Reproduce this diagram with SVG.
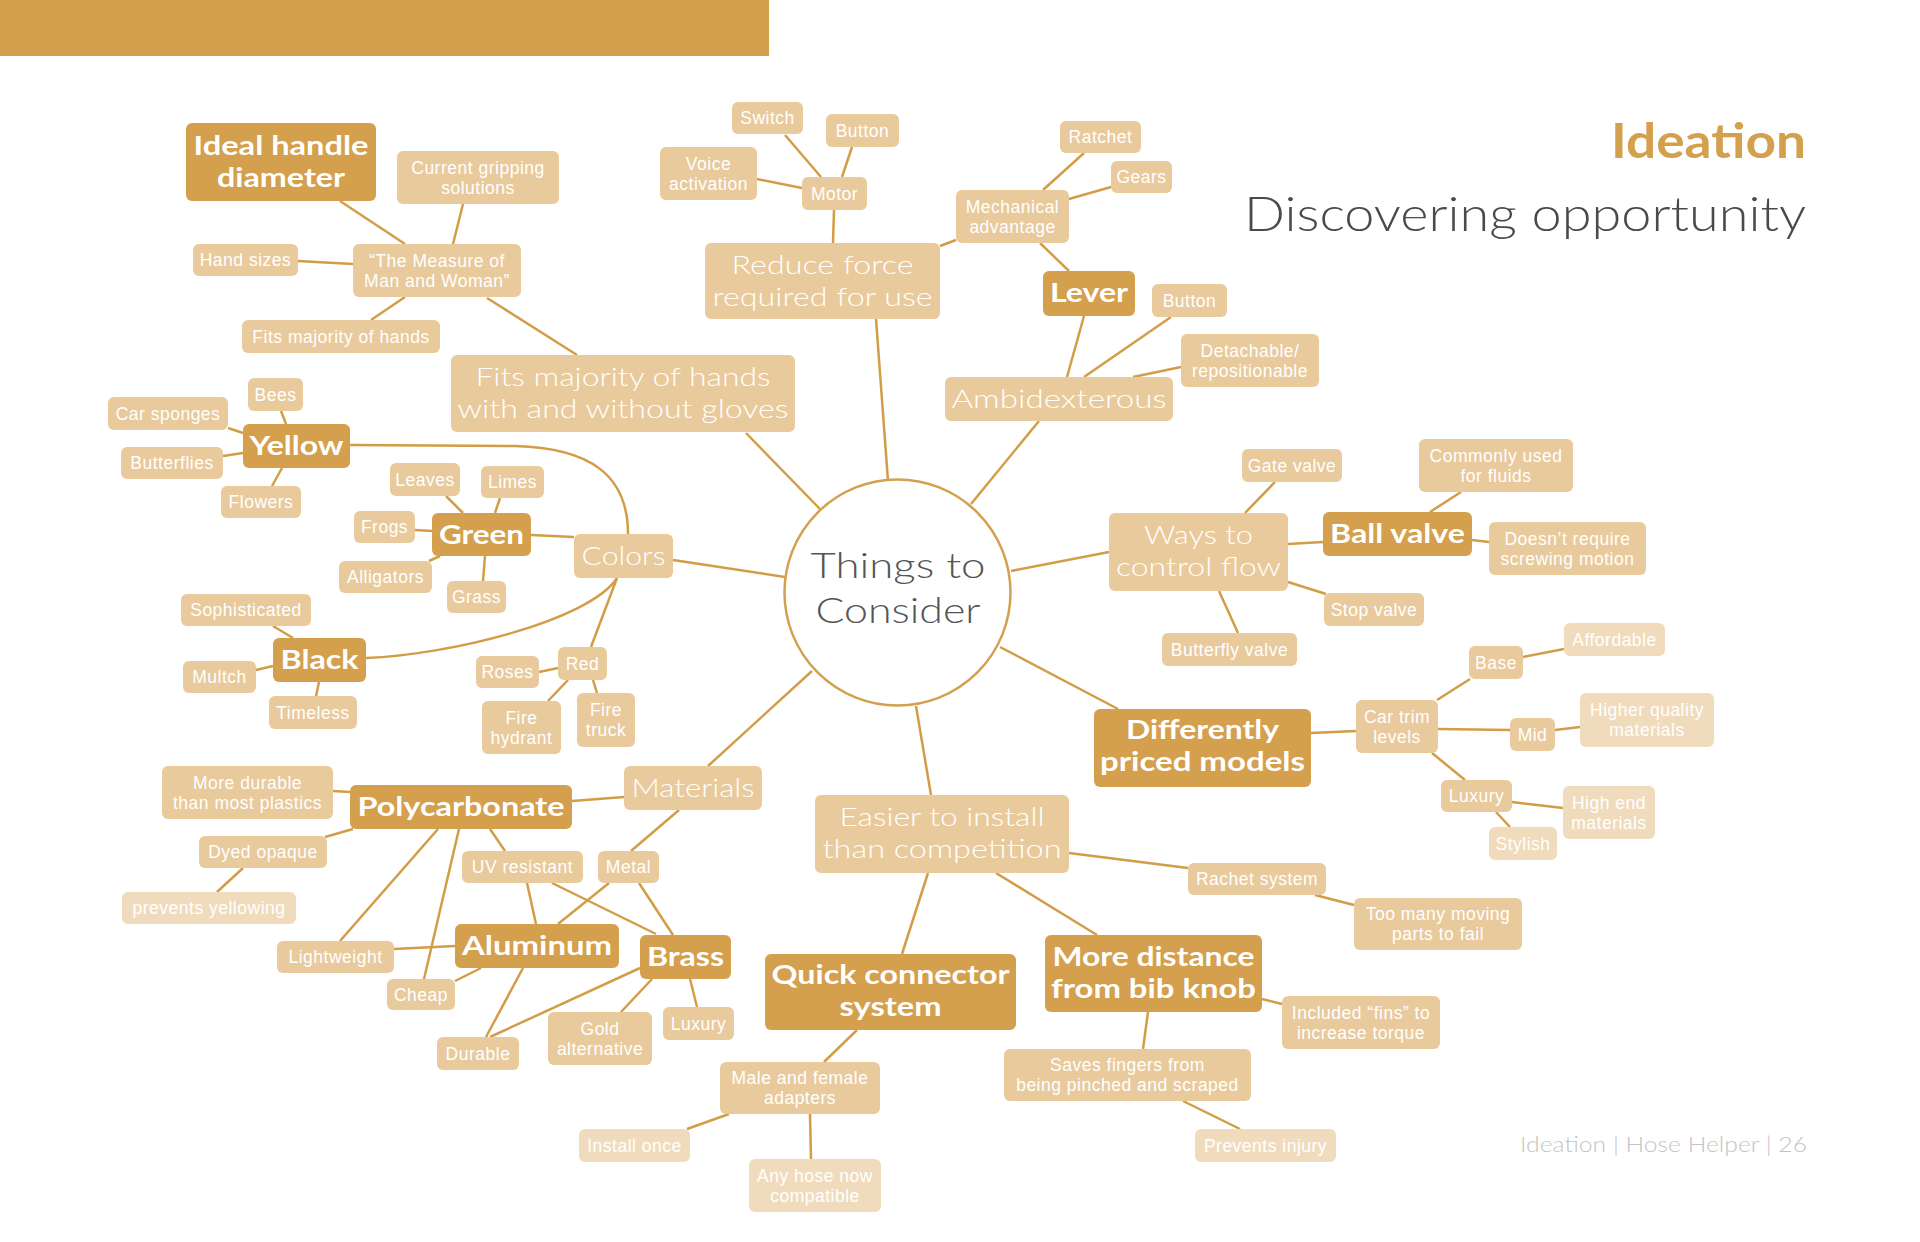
<svg xmlns="http://www.w3.org/2000/svg" width="1920" height="1242" viewBox="0 0 1920 1242">
<style>
.d{fill:#D4A04E}
.l{fill:#E9CA9C}
.p{fill:#F0DCBC}
text{font-family:Lato,'Open Sans',sans-serif;fill:#fff;text-anchor:middle}
.s{font-family:'Liberation Sans',Arial,sans-serif;font-size:17.5px;font-weight:400;letter-spacing:0.5px}
.b{font-size:26px;font-weight:300}
.k{font-size:26px;font-weight:700}
#connectors line,#connectors path{stroke:#D39D47;stroke-width:2.5;fill:none}
</style>
<rect x="0" y="0" width="769" height="56" class="d"/>
<text x="1806" y="158" textLength="195" lengthAdjust="spacingAndGlyphs" style="font-size:47px;font-weight:700;fill:#D4A04E;text-anchor:end">Ideation</text>
<text x="1806" y="231" textLength="562" lengthAdjust="spacingAndGlyphs" style="font-size:48px;font-weight:300;fill:#4A4A4A;text-anchor:end">Discovering opportunity</text>
<text x="1807" y="1152" textLength="287" lengthAdjust="spacingAndGlyphs" style="font-size:22px;font-weight:300;fill:#C4C4C4;text-anchor:end">Ideation | Hose Helper | 26</text>

<g id="connectors">
<line x1="340" y1="201" x2="405" y2="244"/>
<line x1="463" y1="204" x2="453" y2="244"/>
<line x1="298" y1="261" x2="353" y2="264"/>
<line x1="405" y1="297" x2="371" y2="320"/>
<line x1="487" y1="298" x2="577" y2="355"/>
<line x1="746" y1="433" x2="820" y2="509"/>
<line x1="876" y1="319" x2="888" y2="481"/>
<line x1="1039" y1="421" x2="971" y2="504"/>
<line x1="1011" y1="571" x2="1109" y2="552"/>
<line x1="1000" y1="647" x2="1118" y2="709"/>
<line x1="916" y1="706" x2="931" y2="795"/>
<line x1="812" y1="671" x2="708" y2="766"/>
<line x1="673" y1="560" x2="785" y2="577"/>
<line x1="785" y1="135" x2="821" y2="177"/>
<line x1="852" y1="147" x2="842" y2="177"/>
<line x1="757" y1="179" x2="802" y2="188"/>
<line x1="834" y1="210" x2="833" y2="243"/>
<line x1="940" y1="246" x2="956" y2="240"/>
<line x1="1084" y1="153" x2="1043" y2="190"/>
<line x1="1111" y1="187" x2="1069" y2="199"/>
<line x1="1040" y1="243" x2="1069" y2="271"/>
<line x1="1084" y1="316" x2="1067" y2="377"/>
<line x1="1171" y1="317" x2="1084" y2="377"/>
<line x1="1181" y1="367" x2="1133" y2="377"/>
<line x1="1245" y1="513" x2="1275" y2="482"/>
<line x1="1288" y1="544" x2="1323" y2="542"/>
<line x1="1430" y1="512" x2="1461" y2="492"/>
<line x1="1472" y1="540" x2="1489" y2="542"/>
<line x1="1288" y1="582" x2="1326" y2="594"/>
<line x1="1219" y1="591" x2="1238" y2="633"/>
<line x1="1311" y1="733" x2="1356" y2="731"/>
<line x1="1437" y1="700" x2="1470" y2="679"/>
<line x1="1523" y1="657" x2="1564" y2="649"/>
<line x1="1438" y1="729" x2="1510" y2="730"/>
<line x1="1555" y1="730" x2="1580" y2="727"/>
<line x1="1432" y1="753" x2="1465" y2="780"/>
<line x1="1512" y1="802" x2="1563" y2="808"/>
<line x1="1496" y1="812" x2="1510" y2="827"/>
<line x1="1069" y1="853" x2="1188" y2="868"/>
<line x1="1315" y1="895" x2="1354" y2="905"/>
<line x1="928" y1="873" x2="902" y2="954"/>
<line x1="996" y1="873" x2="1097" y2="935"/>
<line x1="1262" y1="999" x2="1282" y2="1004"/>
<line x1="1148" y1="1012" x2="1143" y2="1049"/>
<line x1="857" y1="1030" x2="824" y2="1062"/>
<line x1="729" y1="1114" x2="687" y2="1129"/>
<line x1="810" y1="1114" x2="811" y2="1159"/>
<line x1="1183" y1="1101" x2="1240" y2="1129"/>
<line x1="281" y1="411" x2="286" y2="424"/>
<line x1="228" y1="428" x2="243" y2="433"/>
<line x1="223" y1="456" x2="243" y2="453"/>
<line x1="272" y1="486" x2="282" y2="468"/>
<path d="M350,445 L515,446 C590,448 628,475 628,534"/>
<line x1="446" y1="496" x2="463" y2="513"/>
<line x1="500" y1="498" x2="495" y2="513"/>
<line x1="415" y1="530" x2="432" y2="531"/>
<line x1="429" y1="561" x2="440" y2="556"/>
<line x1="483" y1="581" x2="485" y2="556"/>
<line x1="531" y1="535" x2="574" y2="537"/>
<path d="M617,578 C590,620 450,655 366,658"/>
<line x1="617" y1="578" x2="591" y2="647"/>
<line x1="539" y1="672" x2="558" y2="668"/>
<line x1="568" y1="680" x2="548" y2="701"/>
<line x1="593" y1="680" x2="597" y2="693"/>
<line x1="273" y1="626" x2="293" y2="638"/>
<line x1="256" y1="670" x2="273" y2="666"/>
<line x1="316" y1="696" x2="319" y2="682"/>
<line x1="333" y1="791" x2="350" y2="792"/>
<line x1="572" y1="801" x2="624" y2="797"/>
<line x1="325" y1="837" x2="353" y2="829"/>
<line x1="243" y1="868" x2="217" y2="892"/>
<line x1="438" y1="829" x2="340" y2="941"/>
<line x1="459" y1="829" x2="424" y2="979"/>
<line x1="490" y1="829" x2="505" y2="851"/>
<line x1="679" y1="810" x2="631" y2="851"/>
<line x1="527" y1="883" x2="536" y2="924"/>
<line x1="552" y1="883" x2="656" y2="934"/>
<line x1="609" y1="883" x2="558" y2="924"/>
<line x1="639" y1="883" x2="673" y2="935"/>
<line x1="394" y1="949" x2="455" y2="946"/>
<line x1="481" y1="968" x2="455" y2="981"/>
<line x1="523" y1="968" x2="486" y2="1037"/>
<line x1="640" y1="968" x2="490" y2="1037"/>
<line x1="652" y1="979" x2="621" y2="1012"/>
<line x1="690" y1="979" x2="697" y2="1007"/>
</g>

<g id="center"><circle cx="897.5" cy="592.5" r="113" fill="#fff" stroke="#D4A04E" stroke-width="2.5"/>
<text style="font-size:36px;font-weight:300;fill:#555"><tspan x="898" y="578" textLength="175" lengthAdjust="spacingAndGlyphs">Things to</tspan><tspan x="898" y="623" textLength="165" lengthAdjust="spacingAndGlyphs">Consider</tspan></text></g>

<g id="ideal"><rect x="186" y="123" width="190" height="78" rx="6" class="d"/><text class="k" style="font-size:26.5px"><tspan x="281" y="155" textLength="175" lengthAdjust="spacingAndGlyphs">Ideal handle</tspan><tspan x="281" y="187" textLength="128" lengthAdjust="spacingAndGlyphs">diameter</tspan></text></g>
<g id="lever"><rect x="1043" y="271" width="92" height="45" rx="6" class="d"/><text x="1089" y="302" class="k" textLength="78" lengthAdjust="spacingAndGlyphs">Lever</text></g>
<g id="yellow"><rect x="243" y="424" width="107" height="44" rx="6" class="d"/><text x="296.5" y="455" class="k" textLength="94" lengthAdjust="spacingAndGlyphs">Yellow</text></g>
<g id="green"><rect x="432" y="513" width="99" height="43" rx="6" class="d"/><text x="481.5" y="543.5" class="k" textLength="85" lengthAdjust="spacingAndGlyphs">Green</text></g>
<g id="black"><rect x="273" y="638" width="93" height="44" rx="6" class="d"/><text x="319.5" y="669" class="k" textLength="78" lengthAdjust="spacingAndGlyphs">Black</text></g>
<g id="ballvalve"><rect x="1323" y="512" width="149" height="44" rx="6" class="d"/><text x="1397.5" y="543" class="k" textLength="135" lengthAdjust="spacingAndGlyphs">Ball valve</text></g>
<g id="diffpriced"><rect x="1094" y="709" width="217" height="78" rx="6" class="d"/><text class="k"><tspan x="1202.5" y="739" textLength="153" lengthAdjust="spacingAndGlyphs">Differently</tspan><tspan x="1202.5" y="771" textLength="205" lengthAdjust="spacingAndGlyphs">priced models</tspan></text></g>
<g id="polycarbonate"><rect x="350" y="785" width="222" height="44" rx="6" class="d"/><text x="461" y="816" class="k" textLength="207" lengthAdjust="spacingAndGlyphs">Polycarbonate</text></g>
<g id="aluminum"><rect x="455" y="924" width="164" height="44" rx="6" class="d"/><text x="537" y="955" class="k" textLength="150" lengthAdjust="spacingAndGlyphs">Aluminum</text></g>
<g id="brass"><rect x="640" y="935" width="91" height="44" rx="6" class="d"/><text x="685.5" y="966" class="k" textLength="77" lengthAdjust="spacingAndGlyphs">Brass</text></g>
<g id="quick"><rect x="765" y="954" width="251" height="76" rx="6" class="d"/><text class="k"><tspan x="890.5" y="984" textLength="238" lengthAdjust="spacingAndGlyphs">Quick connector</tspan><tspan x="890.5" y="1016" textLength="102" lengthAdjust="spacingAndGlyphs">system</tspan></text></g>
<g id="moredist"><rect x="1045" y="935" width="217" height="77" rx="6" class="d"/><text class="k"><tspan x="1153.5" y="966" textLength="202" lengthAdjust="spacingAndGlyphs">More distance</tspan><tspan x="1153.5" y="998" textLength="205" lengthAdjust="spacingAndGlyphs">from bib knob</tspan></text></g>

<g id="fits"><rect x="451" y="355" width="344" height="77" rx="6" class="l"/><text class="b"><tspan x="623" y="386" textLength="295" lengthAdjust="spacingAndGlyphs">Fits majority of hands</tspan><tspan x="623" y="418" textLength="331" lengthAdjust="spacingAndGlyphs">with and without gloves</tspan></text></g>
<g id="reduce"><rect x="705" y="243" width="235" height="76" rx="6" class="l"/><text class="b"><tspan x="822.5" y="274" textLength="182" lengthAdjust="spacingAndGlyphs">Reduce force</tspan><tspan x="822.5" y="306" textLength="220" lengthAdjust="spacingAndGlyphs">required for use</tspan></text></g>
<g id="ambid"><rect x="945" y="377" width="228" height="44" rx="6" class="l"/><text x="1059" y="408" class="b" textLength="215" lengthAdjust="spacingAndGlyphs">Ambidexterous</text></g>
<g id="colors"><rect x="574" y="534" width="99" height="44" rx="6" class="l"/><text x="623.5" y="565" class="b" textLength="84" lengthAdjust="spacingAndGlyphs">Colors</text></g>
<g id="materials"><rect x="624" y="766" width="138" height="44" rx="6" class="l"/><text x="693" y="797" class="b" textLength="123" lengthAdjust="spacingAndGlyphs">Materials</text></g>
<g id="ways"><rect x="1109" y="513" width="179" height="78" rx="6" class="l"/><text class="b"><tspan x="1198.5" y="544" textLength="109" lengthAdjust="spacingAndGlyphs">Ways to</tspan><tspan x="1198.5" y="576" textLength="165" lengthAdjust="spacingAndGlyphs">control flow</tspan></text></g>
<g id="easier"><rect x="815" y="795" width="254" height="78" rx="6" class="l"/><text class="b"><tspan x="942" y="826" textLength="205" lengthAdjust="spacingAndGlyphs">Easier to install</tspan><tspan x="942" y="858" textLength="239" lengthAdjust="spacingAndGlyphs">than competition</tspan></text></g>

<g id="current"><rect x="397" y="151" width="162" height="53" rx="6" class="l"/><text class="s"><tspan x="478" y="174">Current gripping</tspan><tspan x="478" y="194">solutions</tspan></text></g>
<g id="handsizes"><rect x="193" y="244" width="105" height="32" rx="6" class="l"/><text x="245.5" y="266" class="s">Hand sizes</text></g>
<g id="measure"><rect x="353" y="244" width="168" height="53" rx="6" class="l"/><text class="s"><tspan x="437" y="267">“The Measure of</tspan><tspan x="437" y="287">Man and Woman”</tspan></text></g>
<g id="fitssmall"><rect x="242" y="320" width="198" height="33" rx="6" class="l"/><text x="341" y="342.5" class="s">Fits majority of hands</text></g>
<g id="switch"><rect x="732" y="102" width="71" height="32" rx="6" class="l"/><text x="767.5" y="124" class="s">Switch</text></g>
<g id="button1"><rect x="826" y="114" width="73" height="33" rx="6" class="l"/><text x="862.5" y="136.5" class="s">Button</text></g>
<g id="voice"><rect x="660" y="147" width="97" height="53" rx="6" class="l"/><text class="s"><tspan x="708.5" y="170">Voice</tspan><tspan x="708.5" y="190">activation</tspan></text></g>
<g id="motor"><rect x="802" y="177" width="65" height="33" rx="6" class="l"/><text x="834.5" y="199.5" class="s">Motor</text></g>
<g id="ratchet"><rect x="1060" y="121" width="81" height="32" rx="6" class="l"/><text x="1100.5" y="143" class="s">Ratchet</text></g>
<g id="gears"><rect x="1111" y="161" width="61" height="32" rx="6" class="l"/><text x="1141.5" y="183" class="s">Gears</text></g>
<g id="mech"><rect x="956" y="190" width="113" height="53" rx="6" class="l"/><text class="s"><tspan x="1012.5" y="213">Mechanical</tspan><tspan x="1012.5" y="233">advantage</tspan></text></g>
<g id="button2"><rect x="1152" y="284" width="75" height="33" rx="6" class="l"/><text x="1189.5" y="306.5" class="s">Button</text></g>
<g id="detach"><rect x="1181" y="334" width="138" height="53" rx="6" class="l"/><text class="s"><tspan x="1250" y="357">Detachable/</tspan><tspan x="1250" y="377">repositionable</tspan></text></g>
<g id="gate"><rect x="1242" y="449" width="100" height="33" rx="6" class="l"/><text x="1292" y="471.5" class="s">Gate valve</text></g>
<g id="commonly"><rect x="1419" y="439" width="154" height="53" rx="6" class="l"/><text class="s"><tspan x="1496" y="462">Commonly used</tspan><tspan x="1496" y="482">for fluids</tspan></text></g>
<g id="doesnt"><rect x="1489" y="522" width="157" height="53" rx="6" class="l"/><text class="s"><tspan x="1567.5" y="545">Doesn’t require</tspan><tspan x="1567.5" y="565">screwing motion</tspan></text></g>
<g id="stop"><rect x="1324" y="593" width="100" height="33" rx="6" class="l"/><text x="1374" y="615.5" class="s">Stop valve</text></g>
<g id="butterfly"><rect x="1162" y="633" width="135" height="33" rx="6" class="l"/><text x="1229.5" y="655.5" class="s">Butterfly valve</text></g>
<g id="base"><rect x="1469" y="646" width="54" height="33" rx="6" class="l"/><text x="1496" y="668.5" class="s">Base</text></g>
<g id="cartrim"><rect x="1356" y="700" width="82" height="53" rx="6" class="l"/><text class="s"><tspan x="1397" y="723">Car trim</tspan><tspan x="1397" y="743">levels</tspan></text></g>
<g id="mid"><rect x="1510" y="718" width="45" height="33" rx="6" class="l"/><text x="1532.5" y="740.5" class="s">Mid</text></g>
<g id="luxury2"><rect x="1441" y="780" width="71" height="32" rx="6" class="l"/><text x="1476.5" y="802" class="s">Luxury</text></g>
<g id="rachet"><rect x="1188" y="863" width="138" height="32" rx="6" class="l"/><text x="1257" y="885" class="s">Rachet system</text></g>
<g id="toomany"><rect x="1354" y="898" width="168" height="52" rx="6" class="l"/><text class="s"><tspan x="1438" y="920">Too many moving</tspan><tspan x="1438" y="940">parts to fail</tspan></text></g>
<g id="included"><rect x="1282" y="996" width="158" height="53" rx="6" class="l"/><text class="s"><tspan x="1361" y="1019">Included “fins” to</tspan><tspan x="1361" y="1039">increase torque</tspan></text></g>
<g id="saves"><rect x="1004" y="1049" width="247" height="52" rx="6" class="l"/><text class="s"><tspan x="1127.5" y="1071">Saves fingers from</tspan><tspan x="1127.5" y="1091">being pinched and scraped</tspan></text></g>
<g id="male"><rect x="720" y="1062" width="160" height="52" rx="6" class="l"/><text class="s"><tspan x="800" y="1084">Male and female</tspan><tspan x="800" y="1104">adapters</tspan></text></g>
<g id="bees"><rect x="248" y="378" width="55" height="33" rx="6" class="l"/><text x="275.5" y="400.5" class="s">Bees</text></g>
<g id="carsponges"><rect x="108" y="397" width="120" height="33" rx="6" class="l"/><text x="168" y="419.5" class="s">Car sponges</text></g>
<g id="butterflies"><rect x="121" y="447" width="102" height="32" rx="6" class="l"/><text x="172" y="469" class="s">Butterflies</text></g>
<g id="flowers"><rect x="221" y="486" width="80" height="32" rx="6" class="l"/><text x="261" y="508" class="s">Flowers</text></g>
<g id="leaves"><rect x="390" y="463" width="70" height="33" rx="6" class="l"/><text x="425" y="485.5" class="s">Leaves</text></g>
<g id="limes"><rect x="481" y="466" width="63" height="32" rx="6" class="l"/><text x="512.5" y="488" class="s">Limes</text></g>
<g id="frogs"><rect x="354" y="511" width="61" height="32" rx="6" class="l"/><text x="384.5" y="533" class="s">Frogs</text></g>
<g id="alligators"><rect x="339" y="561" width="93" height="32" rx="6" class="l"/><text x="385.5" y="583" class="s">Alligators</text></g>
<g id="grass"><rect x="447" y="581" width="59" height="32" rx="6" class="l"/><text x="476.5" y="603" class="s">Grass</text></g>
<g id="sophisticated"><rect x="181" y="594" width="130" height="32" rx="6" class="l"/><text x="246" y="616" class="s">Sophisticated</text></g>
<g id="multch"><rect x="183" y="661" width="73" height="32" rx="6" class="l"/><text x="219.5" y="683" class="s">Multch</text></g>
<g id="timeless"><rect x="269" y="696" width="88" height="33" rx="6" class="l"/><text x="313" y="718.5" class="s">Timeless</text></g>
<g id="roses"><rect x="476" y="656" width="63" height="32" rx="6" class="l"/><text x="507.5" y="678" class="s">Roses</text></g>
<g id="red"><rect x="558" y="647" width="49" height="33" rx="6" class="l"/><text x="582.5" y="669.5" class="s">Red</text></g>
<g id="firehydrant"><rect x="482" y="701" width="79" height="53" rx="6" class="l"/><text class="s"><tspan x="521.5" y="724">Fire</tspan><tspan x="521.5" y="744">hydrant</tspan></text></g>
<g id="firetruck"><rect x="577" y="693" width="58" height="54" rx="6" class="l"/><text class="s"><tspan x="606" y="716">Fire</tspan><tspan x="606" y="736">truck</tspan></text></g>
<g id="moredurable"><rect x="162" y="766" width="171" height="53" rx="6" class="l"/><text class="s"><tspan x="247.5" y="789">More durable</tspan><tspan x="247.5" y="809">than most plastics</tspan></text></g>
<g id="dyed"><rect x="199" y="836" width="128" height="32" rx="6" class="l"/><text x="263" y="858" class="s">Dyed opaque</text></g>
<g id="uv"><rect x="462" y="851" width="121" height="32" rx="6" class="l"/><text x="522.5" y="873" class="s">UV resistant</text></g>
<g id="metal"><rect x="598" y="851" width="61" height="32" rx="6" class="l"/><text x="628.5" y="873" class="s">Metal</text></g>
<g id="lightweight"><rect x="277" y="941" width="117" height="32" rx="6" class="l"/><text x="335.5" y="963" class="s">Lightweight</text></g>
<g id="cheap"><rect x="387" y="979" width="68" height="31" rx="6" class="l"/><text x="421" y="1000.5" class="s">Cheap</text></g>
<g id="durable"><rect x="437" y="1037" width="82" height="33" rx="6" class="l"/><text x="478" y="1059.5" class="s">Durable</text></g>
<g id="gold"><rect x="548" y="1012" width="104" height="53" rx="6" class="l"/><text class="s"><tspan x="600" y="1035">Gold</tspan><tspan x="600" y="1055">alternative</tspan></text></g>
<g id="luxury1"><rect x="663" y="1007" width="71" height="33" rx="6" class="l"/><text x="698.5" y="1029.5" class="s">Luxury</text></g>

<g id="prevents"><rect x="122" y="892" width="174" height="32" rx="6" class="p"/><text x="209" y="914" class="s">prevents yellowing</text></g>
<g id="affordable"><rect x="1564" y="623" width="101" height="33" rx="6" class="p"/><text x="1614.5" y="645.5" class="s">Affordable</text></g>
<g id="higher"><rect x="1580" y="693" width="134" height="54" rx="6" class="p"/><text class="s"><tspan x="1647" y="716">Higher quality</tspan><tspan x="1647" y="736">materials</tspan></text></g>
<g id="highend"><rect x="1563" y="786" width="92" height="53" rx="6" class="p"/><text class="s"><tspan x="1609" y="809">High end</tspan><tspan x="1609" y="829">materials</tspan></text></g>
<g id="stylish"><rect x="1489" y="827" width="68" height="33" rx="6" class="p"/><text x="1523" y="849.5" class="s">Stylish</text></g>
<g id="installonce"><rect x="579" y="1129" width="111" height="33" rx="6" class="p"/><text x="634.5" y="1151.5" class="s">Install once</text></g>
<g id="anyhose"><rect x="749" y="1159" width="132" height="53" rx="6" class="p"/><text class="s"><tspan x="815" y="1182">Any hose now</tspan><tspan x="815" y="1202">compatible</tspan></text></g>
<g id="previnjury"><rect x="1195" y="1129" width="141" height="33" rx="6" class="p"/><text x="1265.5" y="1151.5" class="s">Prevents injury</text></g>
</svg>
